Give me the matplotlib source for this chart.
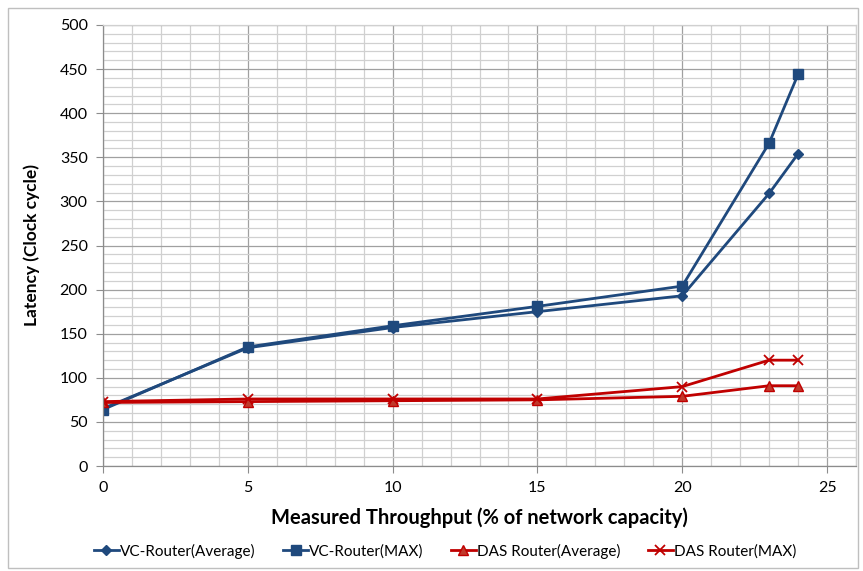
import matplotlib
matplotlib.use("Agg")
import matplotlib.pyplot as plt
from matplotlib.ticker import MultipleLocator
from matplotlib.patches import Rectangle

throughput = [0, 5, 10, 15, 20, 23, 24]
vc_avg = [65, 134, 157, 175, 193, 309, 354]
vc_max = [64, 135, 159, 181, 204, 366, 444]
das_avg = [72, 73, 74, 75, 79, 91, 91]
das_max = [73, 76, 76, 76, 90, 120, 120]

series_names = ["VC-Router(Average)", "VC-Router(MAX)", "DAS Router(Average)", "DAS Router(MAX)"]
x_ticks = [0, 5, 10, 15, 20, 25]
y_ticks = [0, 50, 100, 150, 200, 250, 300, 350, 400, 450, 500]

FONT = ["Lato", "DejaVu Sans"]
plt.rcParams['font.family'] = FONT

W, H = 863, 571
fig = plt.figure(figsize=(W / 100, H / 100), dpi=100)
ax = fig.add_axes([103 / W, 1 - 466 / H, (856 - 103) / W, (466 - 25) / H])

# outer chart border
fig.patches.append(Rectangle((8 / W, 3 / H), (858 - 8) / W, (563 - 3) / H,
                             transform=fig.transFigure, fill=False,
                             edgecolor="#BFBFBF", linewidth=1.0))

ax.set_xlim(0, 26)
ax.set_ylim(0, 500)
ax.xaxis.set_major_locator(MultipleLocator(5))
ax.xaxis.set_minor_locator(MultipleLocator(1))
ax.yaxis.set_major_locator(MultipleLocator(50))
ax.yaxis.set_minor_locator(MultipleLocator(10))
ax.set_xticks(x_ticks)
ax.set_yticks(y_ticks)

ax.grid(which="minor", color="#D0D0D0", linewidth=0.9)
ax.grid(which="major", color="#A0A0A0", linewidth=0.9)
ax.set_axisbelow(True)

for s in ["top", "right"]:
    ax.spines[s].set_color("#D0D0D0")
    ax.spines[s].set_linewidth(0.9)
for s in ["left", "bottom"]:
    ax.spines[s].set_color("#8C8C8C")
    ax.spines[s].set_linewidth(0.9)

ax.tick_params(which="major", direction="out", length=5, color="#8C8C8C",
               labelsize=11.5, labelcolor="#000000", pad=6)
ax.tick_params(which="minor", length=0)

blue = "#1F497D"
red = "#C00000"
lw = 2.0
ax.plot(throughput, vc_avg, color=blue, lw=lw, marker="D", ms=5.5, label=series_names[0])
ax.plot(throughput, vc_max, color=blue, lw=lw, marker="s", ms=6.5, label=series_names[1])
ax.plot(throughput, das_avg, color=red, lw=lw, marker="^", ms=7,
        markerfacecolor="#C0392B", markeredgecolor=red, label=series_names[2])
ax.plot(throughput, das_max, color=red, lw=lw, marker="x", ms=7, mew=1.3, label=series_names[3])

ax.set_xlabel("Measured Throughput (% of network capacity)", fontsize=14.5,
              fontweight="bold", labelpad=9)
ax.set_ylabel("Latency (Clock cycle)", fontsize=12.5, fontweight="bold", labelpad=14)

leg = fig.legend(loc="center", bbox_to_anchor=(445 / W, 1 - 551 / H), ncol=4,
                 frameon=False, fontsize=11, handlelength=1.65, handletextpad=0.05,
                 columnspacing=1.8)

fig.savefig("out.png", dpi=100)
